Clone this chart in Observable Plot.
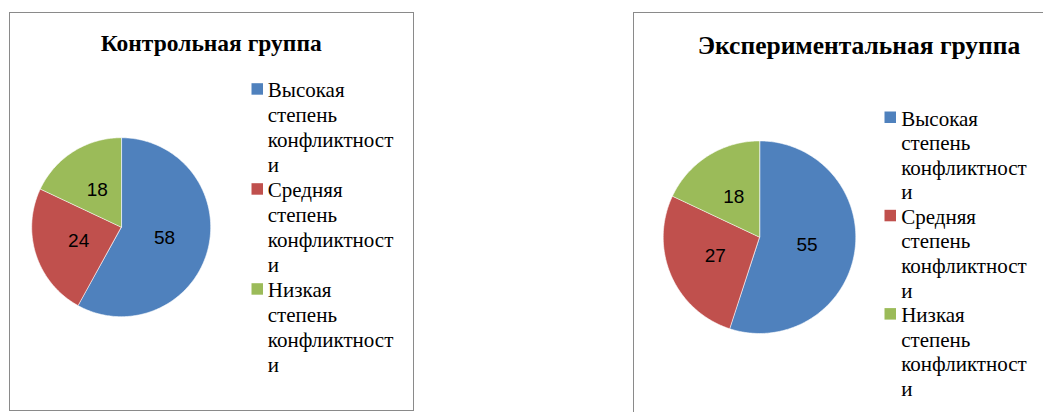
<!DOCTYPE html>
<html><head><meta charset="utf-8">
<script src="https://cdn.jsdelivr.net/npm/d3@7"></script>
<script src="https://cdn.jsdelivr.net/npm/@observablehq/plot@0.6"></script>
<style>
html,body{margin:0;padding:0;background:#fff;}
#page{position:relative;width:1043px;height:412px;overflow:hidden;background:#fff;}
.box{position:absolute;border:1px solid #8a8a8a;box-sizing:border-box;}
.serifmark text, .serifmark tspan{font-family:"Liberation Serif","Times New Roman",serif !important;}
</style></head><body><div id="page"></div>
<script>
// ---- data ----
const categories = ["Высокая степень конфликтности", "Средняя степень конфликтности", "Низкая степень конфликтности"];
const legendLines = [
  ["Высокая", "степень", "конфликтност", "и"],
  ["Средняя", "степень", "конфликтност", "и"],
  ["Низкая", "степень", "конфликтност", "и"]
];
const sliceColors = ["#4F81BD", "#C0504D", "#9BBB59"];
const titles = ["Контрольная группа", "Экспериментальная группа"];
const controlValues = [58, 24, 18];
const experimentalValues = [55, 27, 18];

// ---- layout (not data) ----
const panels = [
  {title: titles[0], values: controlValues,
   box: {left: 9, top: 12, width: 405, height: 399, borders: "all"},
   cx: 120.7, cy: 226.7, r: 89.5,
   titleX: 210.7, titleY: 50, titleSize: 23.5,
   legSqX: 251, legTextX: 267.3, legY: 96.7, itemGap: 100, lineGap: 25, legSize: 21},
  {title: titles[1], values: experimentalValues,
   box: {left: 633, top: 12, width: 410, height: 400, borders: "lt"},
   cx: 759, cy: 236.7, r: 96.3,
   titleX: 858.5, titleY: 53.3, titleSize: 25.5,
   legSqX: 884, legTextX: 900.7, legY: 125, itemGap: 98.3, lineGap: 24.6, legSize: 21}
];
const serifFont = "Liberation Serif, Times New Roman, serif";
const page = document.getElementById("page");

function panelPlot(p) {
  const ox = p.box.left, oy = p.box.top;
  const arcs = d3.pie().sort(null).value(d => d)(p.values);
  const pts = [];
  arcs.forEach((a0, i) => {
    const cat = categories[i];
    pts.push({cat, x: 0, y: 0});
    const n = Math.max(2, Math.ceil((a0.endAngle - a0.startAngle) / (Math.PI / 180)));
    for (let k = 0; k <= n; k++) {
      const a = a0.startAngle + (a0.endAngle - a0.startAngle) * k / n;
      pts.push({cat, x: Math.sin(a), y: -Math.cos(a)});
    }
  });
  const labels = arcs.map((a0, i) => {
    const a = (a0.startAngle + a0.endAngle) / 2;
    return {v: p.values[i], x: 0.5 * Math.sin(a), y: -0.5 * Math.cos(a)};
  });
  const legendMarks = legendLines.flatMap((lines, i) => {
    const base = p.legY + i * p.itemGap;
    const side = 11.5;
    return [
      Plot.dot([categories[i]], {frameAnchor: "top-left", dx: p.legSqX + side / 2 - ox, dy: base - 14 + side / 2 - oy,
        symbol: "square", r: side / Math.sqrt(Math.PI), fill: d => d, stroke: null}),
      Plot.text([lines.join("\n")], {frameAnchor: "top-left", textAnchor: "start", lineAnchor: "bottom",
        lineHeight: p.lineGap / p.legSize, dx: p.legTextX - ox, dy: base + (lines.length - 1) * p.lineGap - oy,
        fontSize: p.legSize, fontFamily: serifFont, fill: "#000", className: "serifmark"})
    ];
  });
  return Plot.plot({
    width: p.box.width, height: p.box.height, margin: 0,
    style: {background: "transparent", overflow: "visible"},
    x: {domain: [-1, 1], range: [p.cx - p.r - ox, p.cx + p.r - ox], axis: null},
    y: {domain: [-1, 1], range: [p.cy - p.r - oy, p.cy + p.r - oy], axis: null},
    color: {domain: categories, range: sliceColors},
    marks: [
      Plot.line(pts, {x: "x", y: "y", z: "cat", fill: "cat", stroke: "#ffffff", strokeWidth: 0.6, curve: "linear-closed"}),
      Plot.text(labels, {x: "x", y: "y", text: d => String(d.v), fontSize: 19, fill: "#000", fontFamily: "Liberation Sans"}),
      Plot.text([p.title], {frameAnchor: "top-left", textAnchor: "middle", lineAnchor: "bottom",
        dx: p.titleX - ox, dy: p.titleY - oy, fontSize: p.titleSize, fontWeight: "bold",
        fontFamily: serifFont, fill: "#000", className: "serifmark"}),
      ...legendMarks
    ]
  });
}

panels.forEach(p => {
  const box = document.createElement("div");
  box.className = "box";
  box.style.left = p.box.left + "px";
  box.style.top = p.box.top + "px";
  box.style.width = p.box.width + "px";
  box.style.height = p.box.height + "px";
  if (p.box.borders === "lt") { box.style.borderRight = "none"; box.style.borderBottom = "none"; }
  page.appendChild(box);

  const svg = panelPlot(p);
  svg.style.position = "absolute";
  svg.style.left = p.box.left + "px";
  svg.style.top = p.box.top + "px";
  svg.querySelectorAll(".serifmark text, .serifmark tspan").forEach(el => el.style.setProperty("font-family", "'Liberation Serif', 'Times New Roman', serif", "important"));
  page.appendChild(svg);
});
</script></body></html>
